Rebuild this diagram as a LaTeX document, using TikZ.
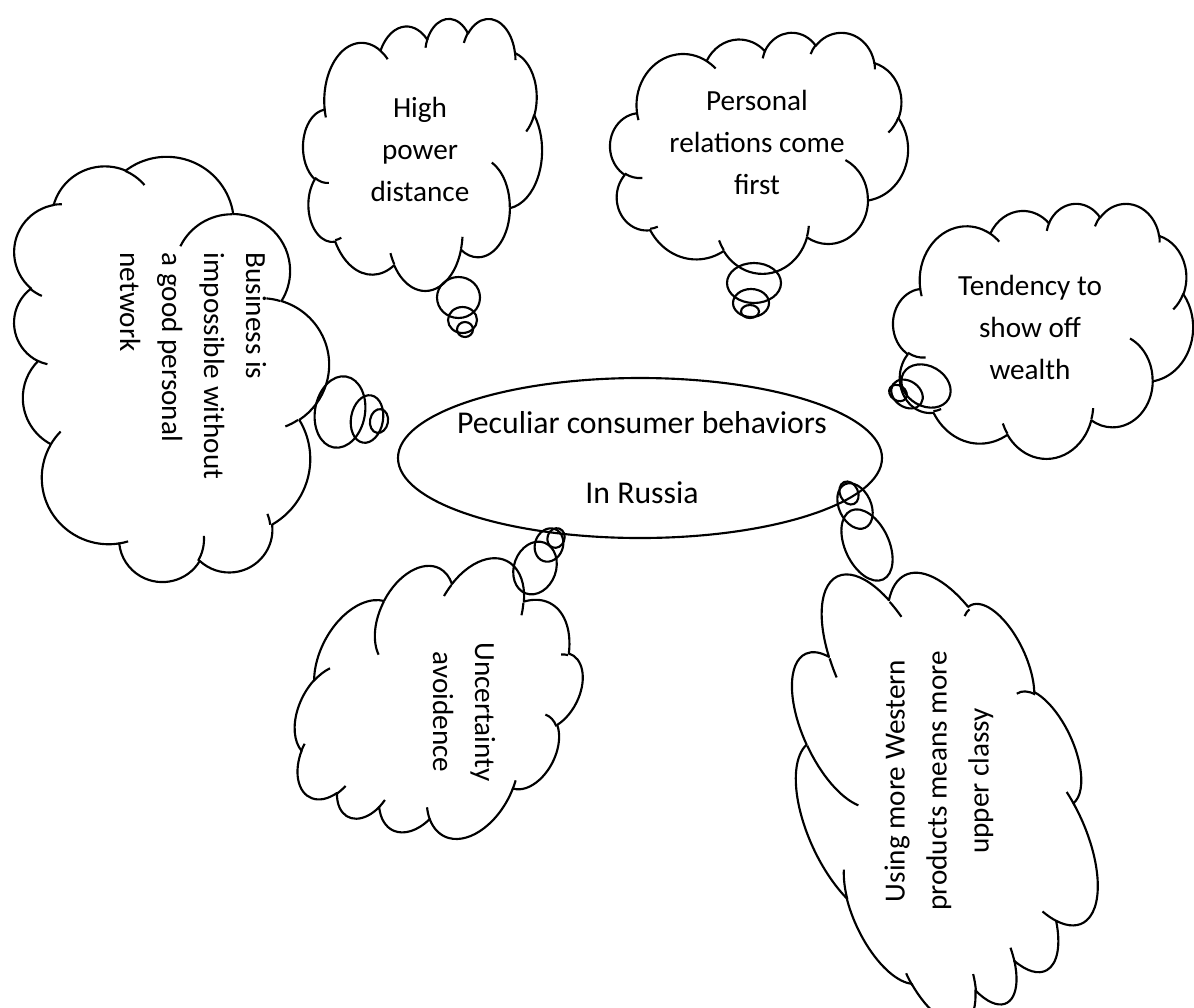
\documentclass[tikz,border=0pt]{standalone}
\usepackage{fontspec}
\setmainfont{Carlito}
\usetikzlibrary{shapes.geometric}

% ---- cloud outline, built once in a 43.2 x 43.2 box (y pointing down) ----
\def\cloudouter{}
\def\cloudhooks{}
\newcommand\cloudangles[4]{% x radius, y radius, start, sweep (angles as seen on the ellipse)
  \pgfmathsetmacro\ca{atan2((#1)*sin(#3),(#2)*cos(#3))}%
  \pgfmathsetmacro\cb{atan2((#1)*sin((#3)+(#4)),(#2)*cos((#3)+(#4)))}%
  \pgfmathsetmacro\cd{mod(\cb-(\ca)+720,360)}%
}
\newcommand\addouter[4]{\cloudangles{#1}{#2}{#3}{#4}%
  \xdef\cloudouter{\cloudouter arc[start angle=\ca, delta angle=\cd, x radius=#1, y radius=#2]}}
\newcommand\addhook[6]{\cloudangles{#3}{#4}{#5}{#6}%
  \xdef\cloudhooks{\cloudhooks (#1,#2) arc[start angle=\ca, delta angle=\cd, x radius=#3, y radius=#4]}}

\addouter{6.753}{9.190}{-190.4875}{123.7805}
\addouter{5.333}{7.267}{-144.1024}{89.9452}
\addouter{4.365}{5.945}{-145.8079}{99.7230}
\addouter{4.857}{6.595}{-130.9861}{117.2417}
\addouter{5.333}{7.273}{-78.7089}{109.0269}
\addouter{6.775}{9.220}{-46.2673}{130.2690}
\addouter{5.785}{7.867}{0.6250}{114.0333}
\addouter{6.752}{9.215}{22.4516}{115.1726}
\addouter{7.720}{10.543}{66.2426}{75.2320}
\addouter{4.360}{5.918}{-274.9421}{146.7356}
\addouter{4.345}{5.945}{-246.8285}{152.5189}

\addhook{4.693}{26.177}{4.345}{5.945}{86.742}{26.430}
\addhook{6.928}{34.899}{4.360}{5.918}{73.610}{11.447}
\addhook{16.478}{39.090}{6.752}{9.215}{137.624}{14.081}
\addhook{28.827}{34.751}{6.752}{9.215}{6.453}{15.998}
\addhook{34.129}{22.954}{5.785}{7.867}{-70.292}{70.917}
\addhook{41.798}{15.354}{5.333}{7.273}{30.318}{27.752}
\addhook{38.324}{5.426}{4.857}{6.595}{-13.744}{14.859}
\addhook{29.078}{3.952}{4.857}{6.595}{-149.181}{18.195}
\addhook{22.141}{4.720}{4.365}{5.945}{-163.494}{17.686}
\addhook{14.000}{5.192}{6.753}{9.190}{-66.707}{12.319}
\addhook{4.127}{15.789}{6.753}{9.190}{157.654}{11.858}

\newcommand\cloudshape[5]{% centre x, centre y, width, height, rotation
  \begin{scope}[shift={(#1,#2)}, rotate=#5, xscale=#3/43.2, yscale=#4/43.2, shift={(-21.6,-21.6)}]
    \draw[cloudline] (3.9,14.37) \cloudouter -- cycle;
    \draw[cloudline] \cloudhooks;
  \end{scope}}

\begin{document}
\begin{tikzpicture}[x=0.75pt, y=-0.75pt,
  cloudline/.style={line width=1.6pt, line join=round},
  bubble/.style={cloudline},
  cloudtext/.style={font=\fontsize{21.9}{31.5}\selectfont, align=center, inner sep=0pt},
  hubtext/.style={font=\fontsize{23.8}{52.5}\selectfont, align=center, inner sep=0pt}]
\path[use as bounding box, clip] (0,0) rectangle (1194,1007);
\fill[white] (0,0) rectangle (1194,1007);

% central ellipse
\node[draw, ellipse, line width=1.6pt, minimum width=363pt, minimum height=120pt, inner sep=0pt] (hub) at (640,458) {};
\node[hubtext] (hubtxt) at (642,458) {Peculiar consumer behaviors\\In Russia};

% clouds
\cloudshape{422.5}{154}{239}{272}{0}
\cloudshape{759}{152.5}{298}{241}{0}
\cloudshape{1043}{330.5}{300}{255}{0}
\cloudshape{170.5}{369.5}{425}{315}{90}
\cloudshape{441}{697}{258}{300}{153}
\cloudshape{938}{784}{280}{458}{-155}

% thought bubbles
\draw[bubble] (458.5,297.5) ellipse[x radius=21.5, y radius=20.5];
\draw[bubble] (462.5,320) ellipse[x radius=14.5, y radius=13];
\draw[bubble] (465,329.5) ellipse[x radius=8, y radius=7.5];

\draw[bubble] (754,283) ellipse[x radius=27, y radius=20];
\draw[bubble] (751,303) ellipse[x radius=18, y radius=14];
\draw[bubble] (750,311.5) ellipse[x radius=9, y radius=6.5];

\draw[bubble, rotate around={-30:(926,386)}] (926,386) ellipse[x radius=26, y radius=20];
\draw[bubble, rotate around={-35:(907,394)}] (907,394) ellipse[x radius=17, y radius=13];
\draw[bubble, rotate around={-35:(898,393)}] (898,393) ellipse[x radius=9.5, y radius=7.5];

\draw[bubble, rotate around={-10:(340,412)}] (340,412) ellipse[x radius=25, y radius=36];
\draw[bubble, rotate around={-10:(367,419)}] (367,419) ellipse[x radius=16, y radius=24];
\draw[bubble, rotate around={-10:(379,421)}] (379,421) ellipse[x radius=9, y radius=12];

\draw[bubble, rotate around={-20:(535,568)}] (535,568) ellipse[x radius=21, y radius=27];
\draw[bubble, rotate around={-20:(549,545)}] (549,545) ellipse[x radius=14, y radius=17];
\draw[bubble, rotate around={-20:(556,538)}] (556,538) ellipse[x radius=8.5, y radius=10];

\draw[bubble, rotate around={25:(867,545)}] (867,545) ellipse[x radius=22, y radius=38];
\draw[bubble, rotate around={25:(855,506)}] (855,506) ellipse[x radius=16, y radius=24];
\draw[bubble, rotate around={25:(849,493)}] (849,493) ellipse[x radius=9, y radius=12];

% cloud texts
\node[cloudtext] (high) at (420,149) {High\\power\\distance};
\node[cloudtext] (personal) at (757,142) {Personal\\relations come\\first};
\node[cloudtext] (wealth) at (1030,327) {Tendency to\\show off\\wealth};
\node[cloudtext, align=left, rotate=-90] (network) at (193,366) {Business is\\impossible without\\a good personal\\network};
\node[cloudtext, rotate=-90] (uncert) at (464,712) {Uncertainty\\avoidence};
\node[cloudtext, rotate=90] (western) at (939,781) {Using more Western\\products means more\\upper classy};
\end{tikzpicture}
\end{document}
